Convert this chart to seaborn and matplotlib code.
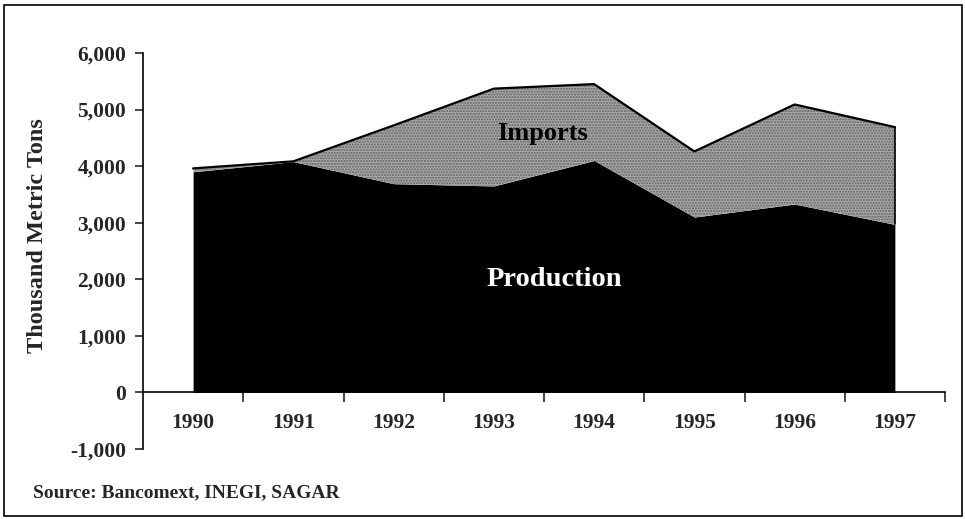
import numpy as np
import matplotlib
matplotlib.use("Agg")
import matplotlib.pyplot as plt
import seaborn as sns
from matplotlib.patches import Rectangle
from matplotlib.ticker import FuncFormatter

# ── data ──
years = ["1990", "1991", "1992", "1993", "1994", "1995", "1996", "1997"]
production = [3900, 4080, 3690, 3650, 4100, 3100, 3330, 2970]
imports = [60, 5, 1030, 1720, 1350, 1160, 1760, 1720]

sns.set_theme(style="ticks")
plt.rcParams["font.family"] = ["Liberation Serif", "DejaVu Serif"]
plt.rcParams["font.weight"] = "bold"

fig = plt.figure(figsize=(9.65, 5.19), dpi=100)
ax = fig.add_axes([143 / 965, 1 - 449 / 519, (945 - 143) / 965, (449 - 53) / 519])

x = np.arange(len(years))
total = np.array(production) + np.array(imports)

ax.stackplot(x, production, imports,
             colors=["black", "#a9a9a9"], linewidth=0)
# stipple texture on the imports band
ax.fill_between(x, production, total, facecolor="none",
                edgecolor="#5e5e5e", hatch="......", linewidth=0)
sns.lineplot(x=x, y=total, ax=ax, color="black", linewidth=1.6)
ax.plot([x[-1], x[-1]], [production[-1], total[-1]], color="black", lw=1.2)

ax.set_xlim(-0.5, len(years) - 0.5)
ax.set_ylim(-1000, 6000)
ax.set_yticks(range(-1000, 6001, 1000))
ax.yaxis.set_major_formatter(FuncFormatter(lambda v, p: f"{int(v):,}"))

ax.set_xticks(x)
ax.set_xticklabels(years)
ax.set_xticks(np.arange(0.5, len(years), 1.0), minor=True)
ax.tick_params(axis="x", which="major", length=0, pad=15, labelsize=15.5)
ax.tick_params(axis="x", which="minor", length=7, width=1.2, direction="out")
ax.tick_params(axis="y", length=6, width=1.2, labelsize=15.5, pad=6)
for lab in ax.get_xticklabels() + ax.get_yticklabels():
    lab.set_fontweight("bold")

ax.spines["top"].set_visible(False)
ax.spines["right"].set_visible(False)
ax.spines["bottom"].set_position(("data", 0))
for s in ("left", "bottom"):
    ax.spines[s].set_linewidth(1.2)
    ax.spines[s].set_color("black")

ax.set_ylabel("Thousand Metric Tons", fontsize=17.5, fontweight="bold")
ax.yaxis.set_label_coords(-0.118, 0.54)

ax.text(3.49, 4580, "Imports", fontsize=19, fontweight="bold", color="black",
        ha="center", va="center")
ax.text(3.6, 2000, "Production", fontsize=20.5, fontweight="bold", color="white",
        ha="center", va="center")

fig.text(33 / 965, 1 - 493 / 519, "Source: Bancomext, INEGI, SAGAR",
         fontsize=14, fontweight="bold", ha="left", va="center")

fig.patches.append(Rectangle((4 / 965, 3 / 519), 958 / 965, 511 / 519,
                             transform=fig.transFigure, fill=False,
                             edgecolor="black", linewidth=1.2))

fig.savefig("out.png", dpi=100)
